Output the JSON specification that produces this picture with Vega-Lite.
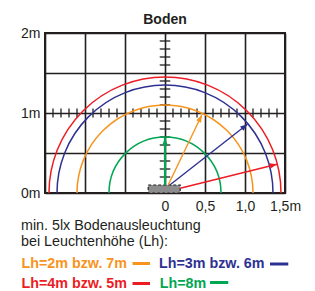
{
  "$schema": "https://vega.github.io/schema/vega-lite/v6.json",
  "width": 240,
  "height": 160,
  "autosize": "none",
  "padding": {"left": 45, "top": 33, "right": 30, "bottom": 98},
  "background": "white",
  "config": {
    "view": {"stroke": "#231f20", "strokeWidth": 2},
    "font": "Liberation Sans",
    "text": {"font": "Liberation Sans"}
  },
  "title": {"text": "Boden", "fontSize": 14, "fontWeight": "bold", "color": "#231f20", "font": "Liberation Sans", "anchor": "middle", "frame": "group", "baseline": "alphabetic", "offset": 2, "dy": 14},
  "resolve": {"axis": {"x": "independent", "y": "independent"}},
  "datasets": {
    "zones": [
      {"lh": "2m/7m", "r": 1.1},
      {"lh": "3m/6m", "r": 1.35},
      {"lh": "4m/5m", "r": 1.45},
      {"lh": "8m", "r": 0.7}
    ],
    "arrows": [
      {"lh": "8m", "x1": 0, "y1": 0.1, "x2": 0, "y2": 0.69},
      {"lh": "2m/7m", "x1": 0.04, "y1": 0.1, "x2": 0.46, "y2": 0.975},
      {"lh": "3m/6m", "x1": 0.06, "y1": 0.1, "x2": 1.03, "y2": 0.86},
      {"lh": "4m/5m", "x1": 0.19, "y1": 0.06, "x2": 1.4, "y2": 0.36}
    ],
    "vticks": [
      {"y": 0.2}, {"y": 0.3}, {"y": 0.4}, {"y": 0.6}, {"y": 0.7}, {"y": 0.8}, {"y": 0.9},
      {"y": 1.1}, {"y": 1.2}, {"y": 1.3}, {"y": 1.4}, {"y": 1.6}, {"y": 1.7}, {"y": 1.8}, {"y": 1.9}
    ],
    "hticks": [
      {"x": -1.4}, {"x": -1.3}, {"x": -1.2}, {"x": -1.1}, {"x": -0.9}, {"x": -0.8}, {"x": -0.7}, {"x": -0.6},
      {"x": -0.4}, {"x": -0.3}, {"x": -0.2}, {"x": -0.1}, {"x": 0.1}, {"x": 0.2}, {"x": 0.3}, {"x": 0.4},
      {"x": 0.6}, {"x": 0.7}, {"x": 0.8}, {"x": 0.9}, {"x": 1.1}, {"x": 1.2}, {"x": 1.3}, {"x": 1.4}
    ],
    "lamp": [{"x1": -0.21, "x2": 0.19, "y1": 0, "y2": 0.1}],
    "note": [{"t": "min. 5lx Bodenausleuchtung\nbei Leuchtenhöhe (Lh):"}]
  },
  "layer": [
    {
      "data": {"name": "hticks"},
      "mark": {"type": "rule", "color": "#231f20", "strokeWidth": 1.3},
      "encoding": {
        "x": {
          "field": "x", "type": "quantitative",
          "scale": {"domain": [-1.5, 1.5], "nice": false, "zero": false},
          "axis": {
            "title": null, "values": [-1.5, -1, -0.5, 0, 0.5, 1, 1.5],
            "grid": true, "gridColor": "#231f20", "gridWidth": 1.6, "gridOpacity": 1,
            "domain": false, "ticks": false,
            "labelExpr": "datum.value == 0 ? '0' : datum.value == 0.5 ? '0,5' : datum.value == 1 ? '1,0' : datum.value == 1.5 ? '\u00a0\u00a0\u00a01,5m' : ''",
            "labelFontSize": 14, "labelColor": "#231f20", "labelFont": "Liberation Sans", "labelPadding": 6,
            "labelBound": false, "labelOverlap": false, "labelFlush": false
          }
        },
        "y": {"datum": 0.944, "type": "quantitative", "axis": null},
        "y2": {"datum": 1.056}
      }
    },
    {
      "data": {"name": "vticks"},
      "mark": {"type": "rule", "color": "#231f20", "strokeWidth": 1.3},
      "encoding": {
        "y": {
          "field": "y", "type": "quantitative",
          "scale": {"domain": [0, 2], "nice": false, "zero": false},
          "axis": {
            "title": null, "values": [0, 0.5, 1, 1.5, 2],
            "grid": true, "gridColor": "#231f20", "gridWidth": 1.6, "gridOpacity": 1,
            "domain": false, "ticks": false,
            "labelExpr": "datum.value == 0 ? '0m' : datum.value == 1 ? '1m' : datum.value == 2 ? '2m' : ''",
            "labelFontSize": 14, "labelColor": "#231f20", "labelFont": "Liberation Sans", "labelPadding": 5,
            "labelBound": false, "labelOverlap": false, "labelFlush": false
          }
        },
        "x": {"datum": -0.066, "type": "quantitative", "axis": null},
        "x2": {"datum": 0.066}
      }
    },
    {
      "data": {"name": "zones"},
      "mark": {"type": "point", "shape": "circle", "filled": false, "strokeWidth": 1.5, "opacity": 1, "clip": true},
      "encoding": {
        "x": {"datum": 0, "type": "quantitative", "axis": null},
        "y": {"datum": 0, "type": "quantitative", "axis": null},
        "size": {"field": "r", "type": "quantitative", "scale": {"type": "pow", "exponent": 2, "domain": [0, 1], "range": [0, 25600]}, "legend": null},
        "color": {"field": "lh", "type": "nominal", "scale": {"domain": ["2m/7m", "3m/6m", "4m/5m", "8m"], "range": ["#f7941d", "#2e3192", "#ed1c24", "#00a651"]}, "legend": null}
      }
    },
    {
      "data": {"name": "lamp"},
      "mark": {"type": "rect", "fill": "#8c8c8c", "stroke": "#231f20", "strokeWidth": 1.2, "strokeDash": [3, 2]},
      "encoding": {
        "x": {"field": "x1", "type": "quantitative", "axis": null},
        "x2": {"field": "x2"},
        "y": {"field": "y1", "type": "quantitative", "axis": null},
        "y2": {"field": "y2"}
      }
    },
    {
      "data": {"name": "arrows"},
      "mark": {"type": "rule"},
      "encoding": {
        "x": {"field": "x1", "type": "quantitative", "axis": null},
        "x2": {"field": "x2"},
        "y": {"field": "y1", "type": "quantitative", "axis": null},
        "y2": {"field": "y2"},
        "color": {"field": "lh", "type": "nominal", "legend": null},
        "strokeWidth": {"condition": {"test": "datum.lh == '8m'", "value": 2.2}, "value": 1.4}
      }
    },
    {
      "data": {"name": "arrows"},
      "transform": [{"calculate": "atan2(datum.x2 - datum.x1, datum.y2 - datum.y1) * 180 / PI", "as": "ang"}],
      "mark": {"type": "point", "shape": "M0,0L-0.9,2.4L0.9,2.4Z", "filled": true, "size": 36, "opacity": 1},
      "encoding": {
        "x": {"field": "x2", "type": "quantitative", "axis": null},
        "y": {"field": "y2", "type": "quantitative", "axis": null},
        "angle": {"field": "ang", "type": "quantitative", "scale": null},
        "color": {"field": "lh", "type": "nominal", "legend": null}
      }
    },
    {
      "data": {"name": "note"},
      "mark": {"type": "text", "align": "left", "baseline": "alphabetic", "fontSize": 14.3, "lineBreak": "\n", "lineHeight": 16, "color": "#231f20"},
      "encoding": {
        "x": {"datum": -1.8, "type": "quantitative", "axis": null},
        "y": {"datum": -0.4625, "type": "quantitative", "axis": null},
        "text": {"field": "t"}
      }
    },
    {
      "data": {"values": [{"t": "Lh=2m bzw. 7m"}]},
      "mark": {"type": "text", "align": "left", "baseline": "alphabetic", "fontSize": 14.3, "fontWeight": "bold", "color": "#f7941d"},
      "encoding": {"x": {"datum": -1.794, "type": "quantitative", "axis": null}, "y": {"datum": -0.941, "type": "quantitative", "axis": null}, "text": {"field": "t"}}
    },
    {
      "data": {"values": [{"t": "Lh=3m bzw. 6m"}]},
      "mark": {"type": "text", "align": "left", "baseline": "alphabetic", "fontSize": 14.3, "fontWeight": "bold", "color": "#2e3192"},
      "encoding": {"x": {"datum": -0.075, "type": "quantitative", "axis": null}, "y": {"datum": -0.941, "type": "quantitative", "axis": null}, "text": {"field": "t"}}
    },
    {
      "data": {"values": [{"t": "Lh=4m bzw. 5m"}]},
      "mark": {"type": "text", "align": "left", "baseline": "alphabetic", "fontSize": 14.3, "fontWeight": "bold", "color": "#ed1c24"},
      "encoding": {"x": {"datum": -1.794, "type": "quantitative", "axis": null}, "y": {"datum": -1.1875, "type": "quantitative", "axis": null}, "text": {"field": "t"}}
    },
    {
      "data": {"values": [{"t": "Lh=8m"}]},
      "mark": {"type": "text", "align": "left", "baseline": "alphabetic", "fontSize": 14.3, "fontWeight": "bold", "color": "#00a651"},
      "encoding": {"x": {"datum": -0.066, "type": "quantitative", "axis": null}, "y": {"datum": -1.1875, "type": "quantitative", "axis": null}, "text": {"field": "t"}}
    },
    {
      "data": {"values": [{"lh": "2m/7m"}]},
      "mark": {"type": "rule", "strokeWidth": 3, "color": "#f7941d"},
      "encoding": {"x": {"datum": -0.406, "type": "quantitative", "axis": null}, "x2": {"datum": -0.1875}, "y": {"datum": -0.881, "type": "quantitative", "axis": null}}
    },
    {
      "data": {"values": [{"lh": "3m/6m"}]},
      "mark": {"type": "rule", "strokeWidth": 3, "color": "#2e3192"},
      "encoding": {"x": {"datum": 1.3125, "type": "quantitative", "axis": null}, "x2": {"datum": 1.541}, "y": {"datum": -0.8875, "type": "quantitative", "axis": null}}
    },
    {
      "data": {"values": [{"lh": "4m/5m"}]},
      "mark": {"type": "rule", "strokeWidth": 3, "color": "#ed1c24"},
      "encoding": {"x": {"datum": -0.406, "type": "quantitative", "axis": null}, "x2": {"datum": -0.1875}, "y": {"datum": -1.131, "type": "quantitative", "axis": null}}
    },
    {
      "data": {"values": [{"lh": "8m"}]},
      "mark": {"type": "rule", "strokeWidth": 3, "color": "#00a651"},
      "encoding": {"x": {"datum": 0.5625, "type": "quantitative", "axis": null}, "x2": {"datum": 0.791}, "y": {"datum": -1.119, "type": "quantitative", "axis": null}}
    }
  ]
}
